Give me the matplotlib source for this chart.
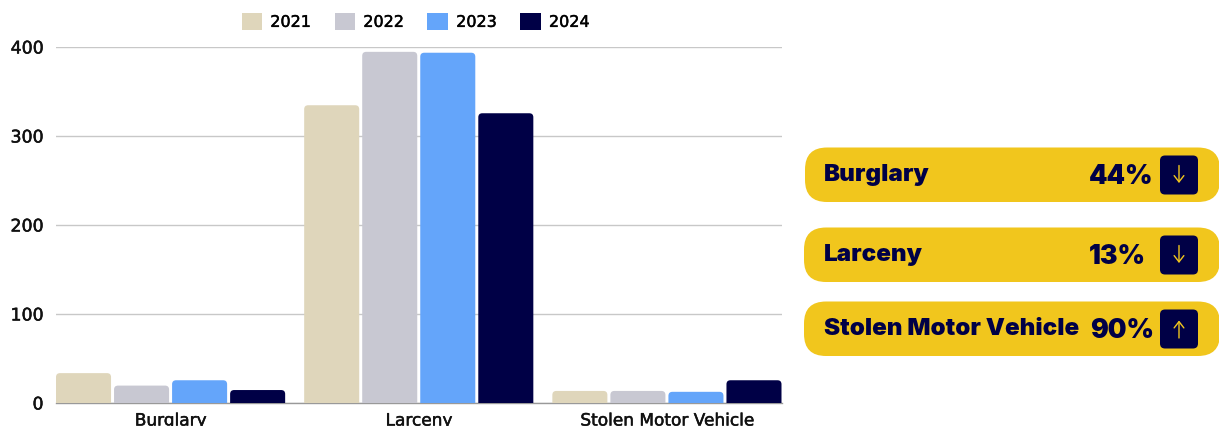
import matplotlib
matplotlib.use('Agg')
import matplotlib.patheffects as pe
import matplotlib.pyplot as plt
import numpy as np
from matplotlib.patches import FancyBboxPatch, Patch

categories = ['Burglary', 'Larceny', 'Stolen Motor Vehicle']
years = ['2021', '2022', '2023', '2024']
values_2021 = [33, 334, 13]
values_2022 = [19, 394, 13]
values_2023 = [25, 393, 12]
values_2024 = [14, 325, 25]
year_colors = ['#DFD6BB', '#C8C8D2', '#64A5FA', '#000046']

panel_names = ['Burglary', 'Larceny', 'Stolen Motor Vehicle']
panel_percents = ['44%', '13%', '90%']
panel_dirs = ['down', 'down', 'up']

NAVY = '#000046'
YELLOW = '#F1C61D'
W, H = 1219, 427

plt.rcParams['font.family'] = ['DejaVu Sans']

fig = plt.figure(figsize=(W / 100, H / 100), dpi=100)
ax = fig.add_axes([56 / W, (H - 403.5) / H, 726 / W, 356 / H])

# pixel sizes of the plot, used to keep the bar corners round
px_per_x = 248.0
px_per_y = 0.89
bar_width = 55 / px_per_x
bar_step = 58 / px_per_x

x = np.arange(len(categories))
series = [values_2021, values_2022, values_2023, values_2024]
for i, vals in enumerate(series):
    bars = ax.bar(x + (i - 1.5) * bar_step, vals, bar_width, color=year_colors[i])
    for rect in bars:
        rect.set_visible(False)
        # bottom corners go below zero and get clipped by the axes
        patch = FancyBboxPatch((rect.get_x(), -10), rect.get_width(), rect.get_height() + 10,
                               boxstyle=f'round,pad=0,rounding_size={4 / px_per_x}',
                               mutation_aspect=px_per_x / px_per_y,
                               facecolor=year_colors[i], edgecolor='none', zorder=3)
        ax.add_patch(patch)

ax.set_xlim(-114.5 / px_per_x, 2 + 115 / px_per_x)
ax.set_ylim(0, 400)
ax.set_yticks([0, 100, 200, 300, 400])
ax.set_xticks(x)
ax.set_xticklabels(categories)
ax.tick_params(axis='x', length=0, labelsize=12.2, labelcolor='#111111', pad=6.5)
ax.tick_params(axis='y', length=0, labelsize=12.5, labelcolor='#111111', pad=9)
ax.grid(axis='y', color='#C8C8C8', linewidth=1)
ax.set_axisbelow(True)
for side in ['top', 'right', 'left']:
    ax.spines[side].set_visible(False)
ax.spines['bottom'].set_color('#999999')
ax.spines['bottom'].set_linewidth(1)

# the reference font is a medium weight, thicken the regular one a little
medium = [pe.withStroke(linewidth=0.35, foreground='#111111')]
for label in ax.get_xticklabels() + ax.get_yticklabels():
    label.set_path_effects(medium)

handles = [Patch(facecolor=c, edgecolor='none') for c in year_colors]
leg = fig.legend(handles, years, loc='center', bbox_to_anchor=(415.5 / W, (H - 22.5) / H), ncol=4,
                 frameon=False, fontsize=11.5, handlelength=1.3, handleheight=1.3,
                 handletextpad=0.5, columnspacing=1.48, borderpad=0, borderaxespad=0)
for label in leg.get_texts():
    label.set_path_effects(medium)

# overlay in pixel coordinates for the yellow panels
over = fig.add_axes([0, 0, 1, 1])
over.set_xlim(0, W)
over.set_ylim(H, 0)
over.axis('off')

pill_tops = [148.5, 228.5, 302.5]
pill_lefts = [805, 804, 804]
percent_lefts = [1089, 1089, 1090]
for name, pct, way, top, left, pct_x in zip(panel_names, panel_percents, panel_dirs,
                                            pill_tops, pill_lefts, percent_lefts):
    over.add_patch(FancyBboxPatch((left, top), 1220 - left, 54.5,
                                  boxstyle='round,pad=0,rounding_size=22',
                                  facecolor=YELLOW, edgecolor='none'))
    over.text(824, top + 27, name, fontsize=17.4, fontweight='black', family='Inter',
              color=NAVY, va='center', ha='left')
    over.text(pct_x, top + 29, pct, fontsize=19, fontweight='black', family='Inter',
              color=NAVY, va='center', ha='left')
    over.add_patch(FancyBboxPatch((1160, top + 8), 38, 39,
                                  boxstyle='round,pad=0,rounding_size=5',
                                  facecolor=NAVY, edgecolor='none'))
    tip, tail = (top + 35.5, top + 18) if way == 'down' else (top + 19, top + 36.5)
    over.annotate('', xy=(1179, tip), xytext=(1179, tail),
                  arrowprops=dict(arrowstyle='->,head_length=0.45,head_width=0.35',
                                  color=YELLOW, lw=1, shrinkA=0, shrinkB=0))

fig.savefig('out.png', dpi=100)
